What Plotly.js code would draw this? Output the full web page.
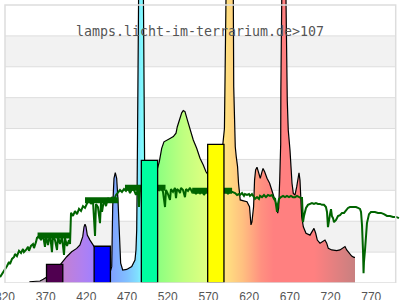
<!DOCTYPE html>
<html><head><meta charset="utf-8">
<script src="https://cdn.plot.ly/plotly-3.0.1.min.js"></script>
<style>html,body{margin:0;padding:0;background:#fff}#chart{width:400px;height:300px}</style>
</head><body><div id="chart"></div>
<script>
const tickVals = [320,370,420,470,520,570,620,670,720,770];
const titleText = 'lamps.licht-im-terrarium.de>107';

// lamp spectrum (nm, relative value)
const specNm = [350,363,367,375,385,391,393.7,395.8,401.9,408.1,412.1,415.5,417.1,418.3,419.5,421.1,424.4,428.5,435,440,445,449.9,451.1,452.3,453.9,455.5,457.2,458.8,460.4,462.1,464.6,469.5,475.7,479.7,480.9,481.8,482.3,482.8,483.2,484.2,486.5,488.5,490.0,490.8,491.5,495,500,505,507.1,509.6,512.5,515.3,518.6,522.7,526.8,530.1,531.7,534.1,537.1,539.0,541.1,544.0,547.3,551.3,555.5,559.6,563.6,566.9,575,585,589.6,590.3,591.5,594,597,599.5,600.5,601,602.0,602.9,604.1,605.7,606.9,608.2,609.0,613.1,617.3,620.4,622.2,623.4,625.4,626.6,627.9,629.6,631.5,633.6,635.7,637.0,639.0,641.9,645.1,648.1,650.9,654.2,655.0,656.2,657.5,658.7,658.9,660,662.5,665.2,666.8,668.0,670.1,671.0,672.6,674.2,676.3,678.4,680.0,681.2,682.4,683.3,684.5,686.5,689.8,694.7,698.0,699.6,701.7,703.7,707.0,711.0,713.1,715.2,717.2,721.4,727.5,731.5,734.9,737.7,739.8,743.0,745.9,748.7,750];
const specVal = [0.4,0.65,1.2,2.5,5.0,6.9,8.0,8.5,10.1,11.2,12.3,15.0,18.2,19.0,18.2,15.5,13.9,12.3,9.5,7.5,5.5,4.2,5.3,24.7,33.9,35.7,33.9,26.9,13.9,6.4,4.2,4.4,5.3,7.4,10.7,17.2,30.1,43.1,62.5,95,107,104,95,70,40,22,26,33,36.9,39.3,43.6,45.7,46.3,46.8,47.4,48.5,50.6,52.8,55.1,55.8,55.5,52.8,49.5,46.3,43.6,40.4,38.2,36.0,33,38,50,63.6,92,100,107,100,92,63.6,47.4,44.1,40.9,37.7,32.3,27.9,26.9,26.6,26.3,24.7,18.8,19.8,24.7,33.3,36.6,37.5,36.0,33.9,36.0,37.1,36.0,33.9,32.3,29.6,26.9,24.7,22.6,24.2,33.3,45,62.5,92,100,92,59,49.5,43.1,37.7,32.3,29.0,28.5,31.2,34.4,35.7,33.3,27.9,21.5,18.2,16.1,15.5,17.2,17.7,16.1,13.9,12.9,13.4,13.9,12.9,11.2,10.7,10.5,10.7,11.2,11.8,10.7,9.6,8.7,8.3,8.3];

// reference (daylight) curve
const refNm = [313.9,316.3,320,322.5,324.9,326.1,328.6,331.1,332.3,334.7,337.2,339.7,342.1,343.3,345.8,348.3,349.5,351.9,354.4,355.6,358.1,359.3,361.8,364.2,366.7,369.1,370.4,372.8,375.3,377.7,379.0,381.4,383.9,385.1,387.6,390.0,392.5,393.7,396.2,398.6,399.9,401.1,403.5,406.0,408.5,410.9,413.4,415.8,418.3,420.7,423.2,425.6,428.1,430.6,431.8,434.2,436.7,437.9,439.2,441.6,444.1,446.5,449.0,451.5,453.9,456.4,458.8,461.3,463.7,466.2,468.6,471.1,473.6,476.0,478.5,480.9,483.4,484.6,485.8,498.1,506.7,509.2,511.6,514.1,516.6,517.8,520.2,522.7,523.9,526.4,528.8,530.1,531.3,533.8,535.0,536.2,538.7,541.1,542.4,544.8,547.3,549.7,552.2,554.6,557.1,559.6,562.0,564.5,566.9,589.4,591.5,594.0,596.4,598.9,600.1,602.6,605.1,607.5,608.7,611.2,613.6,614.8,617.3,619.8,621.0,623.4,625.9,627.1,629.6,632.0,633.3,635.7,638.2,640.6,643.1,645.5,648.0,650.5,651.7,652.9,654.2,655.4,656.6,659.1,661.6,664.0,666.4,668.9,671.3,673.8,676.3,678.7,681.2,683.6,684.9,686.1,687.3,688.6,689.8,692.2,694.7,697.1,699.6,702.0,704.5,707.0,709.4,711.9,714.3,715.6,716.8,718.0,719.3,720.5,721.7,723.0,724.2,726.7,729.1,731.6,734.0,736.5,739.0,741.4,743.8,746.3,748.8,751.2,753.7,756.1,757.4,758.6,759.8,760.5,761.0,762.3,763.5,764.7,767.2,769.6,772.1,774.5,778.2,781.9,785.6,789.3,793.0,796.7,800.3,804.0];
const refVal = [1.9,2.9,4.2,5.5,6.8,6.1,7.8,8.4,9.4,8.7,10.4,9.7,11.0,10.0,10.7,11.7,10.4,12.0,12.6,11.3,13.3,14.6,15.2,13.9,15.5,11.7,15.2,12.3,15.9,10.0,15.2,13.9,10.7,15.2,12.6,14.9,9.1,14.6,12.0,13.9,12.6,22.7,21.7,23.3,22.3,24.0,23.3,24.9,24.3,25.9,27.2,25.6,26.5,15.2,25.6,24.6,19.4,25.9,23.0,26.9,24.9,27.5,26.2,27.8,26.9,28.5,29.5,30.1,29.5,30.4,29.8,30.8,29.1,30.4,30.1,28.5,30.1,24.6,29.8,30.1,30.8,30.1,31.1,29.5,24.6,30.1,28.8,26.9,30.4,29.5,30.8,27.5,30.4,29.8,29.1,30.8,30.1,27.8,30.4,29.8,30.8,29.5,30.4,28.8,30.1,29.1,30.1,28.5,29.8,29.5,30.1,28.8,29.8,29.5,29.5,29.1,28.5,28.8,28.5,29.1,28.2,28.8,28.5,28.8,28.2,28.8,27.8,27.2,27.8,27.2,28.2,27.8,28.5,27.8,28.5,28.2,28.5,27.2,27.5,25.3,23.0,25.6,27.2,27.8,28.2,27.8,28.2,27.8,28.2,27.8,27.8,28.2,27.8,27.5,27.5,19.7,21.7,23.0,24.3,25.3,25.6,25.9,25.6,25.9,25.6,25.6,25.3,25.3,24.6,23.0,18.1,20.7,22.3,23.9,21.6,21.0,19.7,20.4,21.7,22.0,22.7,22.7,23.6,24.3,24.6,24.6,24.6,24.6,24.3,24.0,23.0,18.8,10.7,3.2,6.8,10.7,15.5,19.4,22.3,23.0,23.0,23.0,22.7,22.7,22.3,21.7,21.7,21.4,21.4,21.0];

// band averages of the reference curve
const bandNm  = [360,400.5,null,418.3,459.2,null,467.4,517.2,null,550,599];
const bandVal = [15.4,15.4,null,26.8,26.8,null,30.8,30.8,null,29.9,29.9];

// band bars
const barNm  = [381,439.5,497.5,579];
const barVal = [6.0,11.9,39.7,44.9];
const barColors = ['#500050','#0000ff','#00ffa0','#ffff00'];

const gradStops = [[320,'#909090'],[350,'#a8a8a8'],[368,'#b8a0b8'],[385,'#c080c8'],[395,'#c080d8'],[415,'#b080f0'],[430,'#a080ff'],[440,'#8888ff'],[450,'#80a0ff'],[470,'#80c0ff'],[483,'#80e0ff'],[488,'#80f8ff'],[495,'#80ffe0'],[505,'#80ffa0'],[510,'#90ff80'],[540,'#c0ff80'],[568,'#e0ff80'],[580,'#fff080'],[592,'#ffe080'],[612,'#ffc080'],[635,'#ff9080'],[650,'#ff8080'],[700,'#ff8080'],[750,'#c88080'],[800,'#c88080']];
const colorscale = gradStops.map(s => [(s[0]-320)/480, s[1]]);

const xr = [313.86, 805.28];
const yr = [0, 91.62];

const traces = [
  {x: specNm, y: specVal, type:'scatter', mode:'lines', fill:'tozeroy',
   line:{color:'#000', width:1.2},
   fillgradient:{type:'horizontal', colorscale: colorscale, start:320, stop:800},
   hoverinfo:'skip'},
  {x: refNm, y: refVal, type:'scatter', mode:'lines', line:{color:'#006400', width:2}, hoverinfo:'skip'},
  {x: bandNm, y: bandVal, type:'scatter', mode:'lines', line:{color:'#006400', width:6}, connectgaps:false, hoverinfo:'skip'},
  {x: barNm, y: barVal, type:'bar', width:20, xaxis:'x2', yaxis:'y2',
   marker:{color: barColors, line:{color:'#000', width:1.3}}, hoverinfo:'skip'}
];

const shapes = [];
[10,30,50,70].forEach(v => shapes.push({type:'rect', xref:'x', yref:'y', x0:320, x1:800, y0:v, y1:v+10, fillcolor:'#f2f2f2', line:{width:0}, layer:'below'}));
[10,20,30,40,50,60,70,80].forEach(v => shapes.push({type:'line', xref:'x', yref:'y', x0:320, x1:800, y0:v, y1:v, line:{color:'#dddddd', width:1}, layer:'below'}));
shapes.push({type:'rect', xref:'x', yref:'y', x0:320, x1:800, y0:0, y1:90, line:{color:'#dddddd', width:1.5}, fillcolor:'rgba(0,0,0,0)', layer:'above'});

const layout = {
  width:400, height:300,
  margin:{l:0, r:0, t:0, b:17},
  paper_bgcolor:'#ffffff', plot_bgcolor:'#ffffff',
  showlegend:false,
  title:{text:titleText, x:0.5, xanchor:'center', y:0.8967, yanchor:'middle', yref:'container',
         font:{family:'DejaVu Sans Mono, monospace', size:13.3, color:'#555555'}},
  xaxis:{range:xr, tickvals:tickVals, ticktext:tickVals.map(String), showgrid:false, zeroline:false, showline:false,
         ticks:'', ticklabelstandoff:5, ticklabeloverflow:'allow',
         tickfont:{family:'Liberation Sans, Arial, sans-serif', size:12, color:'#555555'}},
  yaxis:{range:yr, showgrid:false, zeroline:false, showticklabels:false, showline:false, ticks:''},
  xaxis2:{range:xr, overlaying:'x', anchor:'y2', visible:false},
  yaxis2:{range:yr, overlaying:'y', anchor:'x2', visible:false},
  bargap:0,
  shapes: shapes
};

Plotly.newPlot('chart', traces, layout, {staticPlot:true, displayModeBar:false});
</script></body></html>
